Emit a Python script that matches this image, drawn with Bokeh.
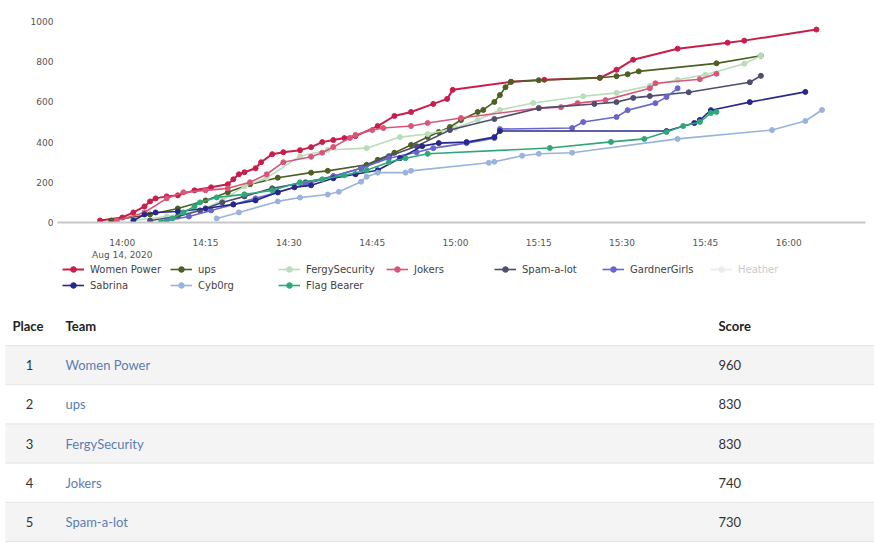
import pandas as pd
from bokeh.plotting import figure
from bokeh.models import Range1d, FixedTicker, DatetimeTickFormatter, Legend, LegendItem
from bokeh.core.properties import value
from bokeh.embed import file_html
from bokeh.resources import INLINE

DAY = "2020-08-14 "

# ---------------- data ----------------
team_names = ["Women Power", "ups", "FergySecurity", "Jokers", "Spam-a-lot",
              "GardnerGirls", "Heather", "Sabrina", "Cyb0rg", "Flag Bearer"]
team_colors = ["#c81e4b", "#4d5f22", "#b9dcb9", "#d9567a", "#4e4e6e",
               "#6666cc", "#bbbbbb", "#28288c", "#99b3dd", "#2ea87a"]

women_power_t = ["13:56", "14:00", "14:02", "14:04", "14:05", "14:06", "14:08", "14:10", "14:13", "14:16",
                 "14:19", "14:20", "14:21", "14:22", "14:24", "14:25", "14:27", "14:29", "14:32", "14:34",
                 "14:36", "14:38", "14:40", "14:42", "14:46", "14:49", "14:52", "14:56", "14:58:30", "14:59:30",
                 "15:10", "15:16", "15:26", "15:29", "15:32", "15:40", "15:49", "15:52", "16:05"]
women_power_s = [10, 25, 50, 80, 105, 120, 130, 135, 160, 175,
                 190, 215, 240, 250, 270, 300, 340, 350, 360, 375,
                 400, 410, 420, 430, 480, 530, 550, 590, 615, 660,
                 700, 710, 720, 760, 810, 865, 895, 905, 960]

ups_t = ["13:58", "14:05", "14:10", "14:15", "14:19", "14:23", "14:28", "14:34", "14:37", "14:44",
         "14:46", "14:49", "14:52", "14:55", "14:57", "14:59", "15:01", "15:04", "15:05", "15:07",
         "15:08", "15:09", "15:10", "15:15", "15:26", "15:29", "15:31", "15:33", "15:47", "15:55"]
ups_s = [10, 40, 70, 110, 150, 190, 223, 248, 257, 287,
         312, 347, 386, 425, 450, 475, 510, 550, 560, 600,
         634, 673, 700, 708, 720, 728, 738, 752, 792, 830]

fergy_t = ["14:02", "14:08", "14:14", "14:18", "14:22", "14:26", "14:32", "14:37", "14:44", "14:50",
           "14:55", "15:00", "15:04", "15:08", "15:14", "15:23", "15:29", "15:35", "15:40", "15:45",
           "15:52", "15:55"]
fergy_s = [10, 30, 60, 110, 180, 222, 330, 361, 370, 425,
           440, 470, 510, 560, 595, 628, 645, 680, 710, 735,
           790, 830]

jokers_t = ["13:59", "14:04", "14:08", "14:11", "14:15", "14:19", "14:23", "14:26", "14:29", "14:34",
            "14:36", "14:38", "14:41", "14:42", "14:45", "14:47", "14:52", "14:55", "15:01", "15:15",
            "15:19", "15:22", "15:27", "15:35", "15:36", "15:44", "15:47"]
jokers_s = [10, 50, 120, 150, 160, 170, 200, 240, 300, 327,
            347, 376, 421, 436, 460, 470, 480, 495, 520, 569,
            574, 594, 609, 668, 693, 713, 740]

spam_t = ["14:05", "14:10", "14:14", "14:18", "14:22", "14:27", "14:33", "14:38", "14:43", "14:48",
          "14:53", "14:59", "15:07", "15:15", "15:25", "15:29", "15:32", "15:35", "15:42", "15:53", "15:55"]
spam_s = [10, 30, 60, 100, 130, 170, 200, 230, 270, 330,
          380, 460, 515, 569, 590, 599, 620, 629, 648, 698, 730]

gardner_t = ["14:08", "14:12", "14:16", "14:20", "14:24", "14:28", "14:33", "14:38", "14:43", "14:48",
             "14:53", "14:56", "15:02", "15:07", "15:08", "15:21", "15:23", "15:29", "15:31", "15:36",
             "15:38", "15:40"]
gardner_s = [10, 30, 60, 90, 120, 150, 190, 230, 270, 320,
             350, 370, 395, 420, 465, 470, 500, 525, 559, 594,
             624, 668]

heather_t = []
heather_s = []

sabrina_t = ["14:02", "14:04", "14:06", "14:10", "14:15", "14:20", "14:24", "14:28", "14:31", "14:34",
             "14:38", "14:42", "14:46", "14:50", "14:54", "14:57", "15:02", "15:07", "15:08", "15:38",
             "15:43", "15:44", "15:46", "15:53", "16:03"]
sabrina_s = [10, 40, 50, 55, 70, 90, 110, 150, 175, 185,
             220, 240, 260, 320, 380, 395, 400, 425, 455, 455,
             495, 510, 559, 599, 650]

cyborg_t = ["14:17", "14:21", "14:28", "14:32", "14:37", "14:39", "14:43", "14:44", "14:46", "14:51",
            "14:52", "15:06", "15:07", "15:12", "15:15", "15:21", "15:40", "15:57", "16:03", "16:06"]
cyborg_s = [20, 50, 105, 124, 139, 153, 203, 228, 248, 248,
            257, 297, 302, 332, 342, 347, 416, 460, 505, 560]

flag_t = ["14:07", "14:09", "14:11", "14:13", "14:14", "14:17", "14:22", "14:27", "14:32", "14:36",
          "14:40", "14:44", "14:48", "14:51", "14:55", "15:17", "15:28", "15:34", "15:38", "15:41",
          "15:44", "15:46", "15:47"]
flag_s = [5, 20, 50, 80, 100, 125, 140, 160, 200, 215,
          235, 260, 300, 320, 342, 371, 401, 416, 450, 480,
          500, 545, 550]

hidden_teams = ["Heather"]
legend_rows = [7, 3]   # items per legend row

x_tick_times = ["14:00", "14:15", "14:30", "14:45", "15:00", "15:15", "15:30", "15:45", "16:00"]
y_ticks = [0, 200, 400, 600, 800, 1000]
x_window = ["13:48:20", "16:13:50"]

header_labels = ["Place", "Team", "Score"]
places = [1, 2, 3, 4, 5]
table_teams = ["Women Power", "ups", "FergySecurity", "Jokers", "Spam-a-lot"]
table_scores = [960, 830, 830, 740, 730]

series = [(women_power_t, women_power_s), (ups_t, ups_s), (fergy_t, fergy_s), (jokers_t, jokers_s),
          (spam_t, spam_s), (gardner_t, gardner_s), (heather_t, heather_s), (sabrina_t, sabrina_s),
          (cyborg_t, cyborg_s), (flag_t, flag_s)]


def ts(lst):
    return pd.to_datetime([DAY + t for t in lst], format="mixed")


# ---------------- chart ----------------
xr = ts(x_window)
p = figure(width=874, height=262, output_backend="svg", toolbar_location=None,
           x_axis_type="datetime", x_range=Range1d(xr[0], xr[1]), y_range=Range1d(0, 1040),
           min_border_left=57, min_border_right=9, min_border_top=13, min_border_bottom=39)
p.outline_line_color = None
p.xgrid.visible = False
p.ygrid.visible = False

for name, color, (tt, ss) in zip(team_names, team_colors, series):
    x = list(ts(tt)) if tt else []
    lw = 2 if name == "Women Power" else 1.6
    r1 = p.line(x, ss, line_color=color, line_width=lw)
    r2 = p.scatter(x, ss, size=5, fill_color=color, line_color=color)
    if name in hidden_teams:
        r1.visible = False
        r2.visible = False

p.yaxis.ticker = FixedTicker(ticks=y_ticks)
p.yaxis.axis_line_color = None
p.yaxis.major_tick_line_color = None
p.yaxis.minor_tick_line_color = None
p.yaxis.major_tick_out = 0
p.yaxis.minor_tick_out = 0
p.yaxis.major_label_text_font = "DejaVu Sans"
p.yaxis.major_label_text_font_size = "9px"
p.yaxis.major_label_text_color = "#555555"
p.yaxis.major_label_standoff = 4

p.xaxis.ticker = FixedTicker(ticks=[t.value // 10**6 for t in ts(x_tick_times)])
fmt = "%H:%M"
p.xaxis.formatter = DatetimeTickFormatter(seconds=fmt, minsec=fmt, minutes=fmt, hourmin=fmt, hours=fmt,
                                          context="%b %d, %Y", context_which="start")
p.xaxis.axis_line_color = "#c8c8c8"
p.xaxis.axis_line_width = 2
p.xaxis.major_tick_line_color = None
p.xaxis.minor_tick_line_color = None
p.xaxis.major_tick_out = 0
p.xaxis.minor_tick_out = 0
p.xaxis.major_label_text_font = "DejaVu Sans"
p.xaxis.major_label_text_font_size = "9px"
p.xaxis.major_label_text_color = "#555555"
p.xaxis.major_label_standoff = 15

# ---------------- legend + table ----------------
TH = 284
t = figure(width=874, height=TH, output_backend="svg", toolbar_location=None,
           x_range=Range1d(0, 874), y_range=Range1d(TH, 0), min_border=0,
           x_axis_location=None, y_axis_location=None)
t.outline_line_color = None
t.xgrid.visible = False
t.ygrid.visible = False

# legend swatches: NaN data (nothing drawn in the plot), mirroring the chart's line + marker styles
NAN = [float("nan")]
items = []
for name, color in zip(team_names, team_colors):
    lw = 2 if name == "Women Power" else 1.6
    g1 = t.line(NAN, NAN, line_color=color, line_width=lw)
    g2 = t.scatter(NAN, NAN, size=5, fill_color=color, line_color=color)
    if name in hidden_teams:
        g1.visible = False
        g2.visible = False
    items.append(LegendItem(label=name, renderers=[g1, g2]))

start = 0
row_bottoms = [TH - 14, TH - 30]
for n, yb in zip(legend_rows, row_bottoms):
    lg = Legend(items=items[start:start + n], orientation="horizontal", location=(62, yb),
                click_policy="hide", border_line_color=None, background_fill_alpha=0,
                label_text_font="DejaVu Sans", label_text_font_size="10px", label_text_color="#444444",
                glyph_width=22, glyph_height=14, label_height=14, label_width=76, label_standoff=6,
                spacing=4, padding=0, margin=0)
    t.add_layout(lg)
    start += n

header_y = 63
row_top = 83
row_h = 39.2
col_x = [12, 65, 718]
place_x = 29

tops = [row_top + i * row_h for i in range(len(places))]
bottoms = [v + row_h for v in tops]
centers = [v + row_h / 2 for v in tops]
shade = [i for i in range(len(places)) if i % 2 == 0]
t.quad(left=5, right=874, top=[tops[i] for i in shade], bottom=[bottoms[i] for i in shade],
       fill_color="#f4f4f4", line_color=None)
t.segment(x0=5, x1=874, y0=tops + [bottoms[-1]], y1=tops + [bottoms[-1]],
          line_color="#e4e4e4", line_width=1)

t.text(x=col_x, y=[header_y] * 3, text=header_labels, text_font=value("Lato"), text_font_size="13px",
       text_font_style="bold", text_color="#222222", text_baseline="middle", text_align="left")
t.text(x=[place_x] * len(places), y=centers, text=[str(v) for v in places], text_font=value("Lato"),
       text_font_size="13px", text_color="#333333", text_baseline="middle", text_align="center")
t.text(x=[col_x[1]] * len(places), y=centers, text=table_teams, text_font=value("Lato"),
       text_font_size="13px", text_color="#5b7db1", text_baseline="middle", text_align="left")
t.text(x=[col_x[2]] * len(places), y=centers, text=[str(v) for v in table_scores], text_font=value("Lato"),
       text_font_size="13px", text_color="#333333", text_baseline="middle", text_align="left")

open("out.html", "w").write(file_html([p, t], INLINE))
